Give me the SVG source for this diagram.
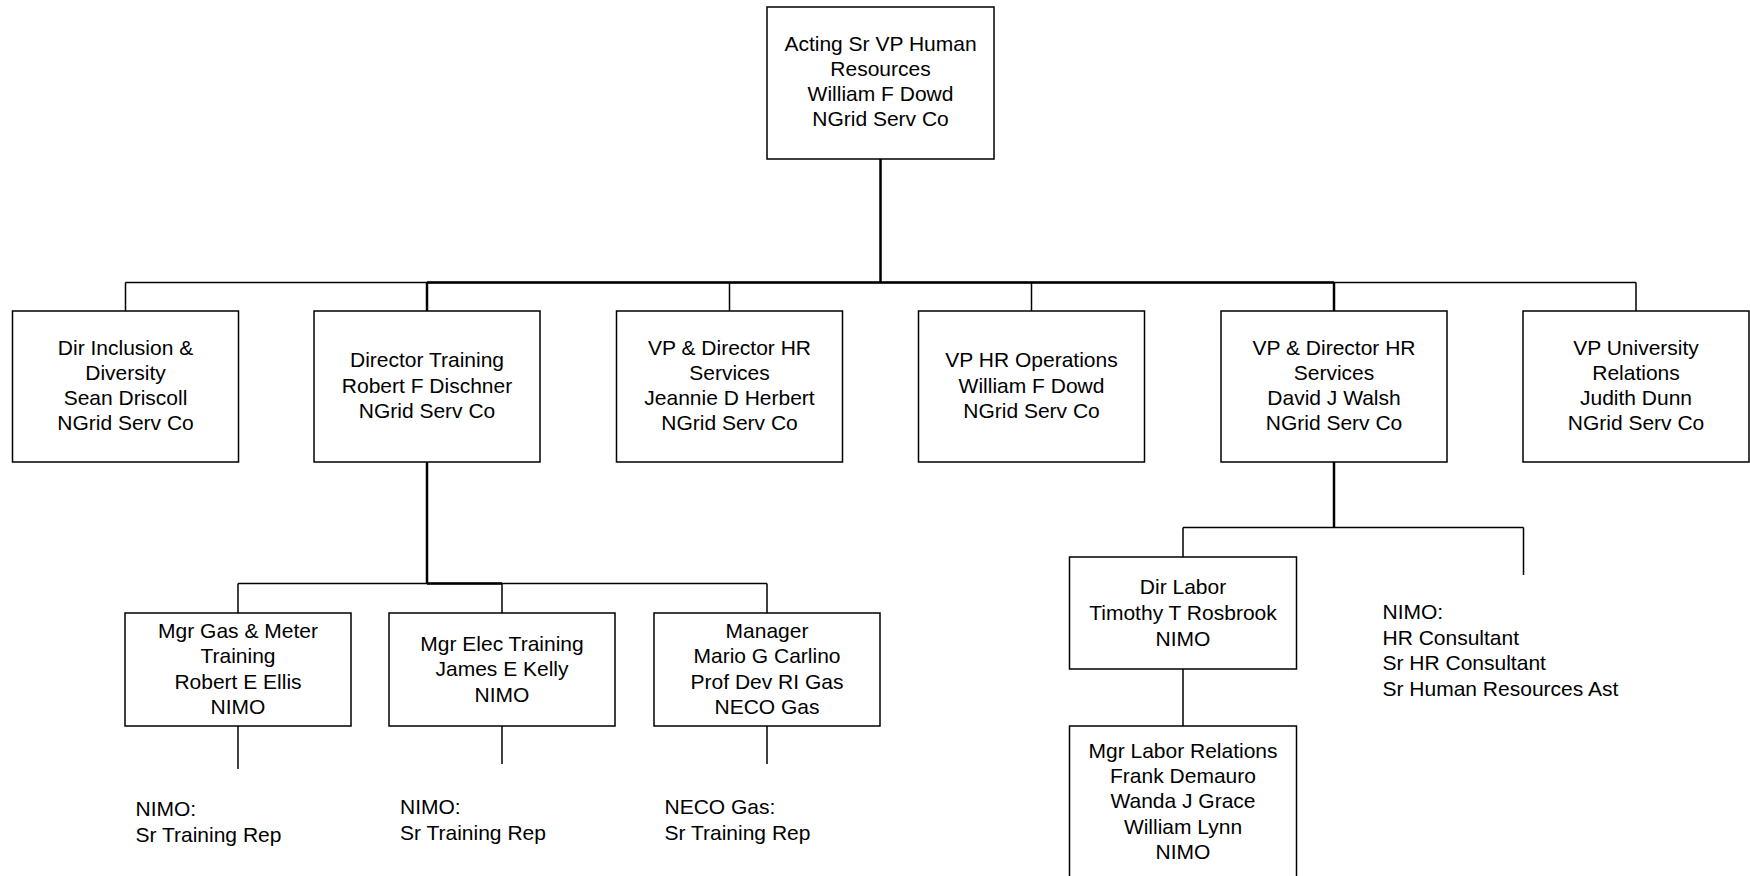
<svg xmlns="http://www.w3.org/2000/svg" width="1750" height="876" viewBox="0 0 1750 876">
<style>
.box{fill:#fff;stroke:#000;stroke-width:1.5}
.t{font-family:"Liberation Sans",Arial,sans-serif;font-size:21px;fill:#000;text-anchor:middle}
.l{font-family:"Liberation Sans",Arial,sans-serif;font-size:21px;fill:#000}
.c{fill:none;stroke:#000;stroke-width:1.5}
.ck{fill:none;stroke:#000;stroke-width:2.5}
</style>
<rect width="1750" height="876" fill="#fff"/>
<g id="connectors">
<path class="c" d="M125.5 282.5H1636M125.5 282.5V311M729.5 282.5V311M1031.5 282.5V311M1636 282.5V311"/>
<path class="ck" d="M880.5 159V282.5M427 282.5H1334M427 282.5V311M1334 282.5V311"/>
<path class="c" d="M238 583.5H767M238 583.5V613M767 583.5V613M502 583.5V613"/>
<path class="ck" d="M427 462V583.5M427 583.5H502"/>
<path class="c" d="M238 726V769M502 726V764M767 726V764"/>
<path class="c" d="M1183 527.5H1523.5M1183 527.5V557M1523.5 527.5V575M1183 669V726"/>
<path class="ck" d="M1334 462V527.5"/>
</g>
<g id="n_top">
<rect class="box" x="767" y="7" width="227" height="152"/>
<text class="t" x="880.5" y="51">Acting Sr VP Human</text>
<text class="t" x="880.5" y="76">Resources</text>
<text class="t" x="880.5" y="101">William F Dowd</text>
<text class="t" x="880.5" y="126">NGrid Serv Co</text>
</g>
<g id="n_inclusion">
<rect class="box" x="12.5" y="311" width="226" height="151"/>
<text class="t" x="125.5" y="355">Dir Inclusion &amp;</text>
<text class="t" x="125.5" y="380">Diversity</text>
<text class="t" x="125.5" y="405">Sean Driscoll</text>
<text class="t" x="125.5" y="430">NGrid Serv Co</text>
</g>
<g id="n_training">
<rect class="box" x="314" y="311" width="226" height="151"/>
<text class="t" x="427" y="367">Director Training</text>
<text class="t" x="427" y="392.5">Robert F Dischner</text>
<text class="t" x="427" y="417.5">NGrid Serv Co</text>
</g>
<g id="n_hr_herbert">
<rect class="box" x="616.5" y="311" width="226" height="151"/>
<text class="t" x="729.5" y="355">VP &amp; Director HR</text>
<text class="t" x="729.5" y="380">Services</text>
<text class="t" x="729.5" y="405">Jeannie D Herbert</text>
<text class="t" x="729.5" y="430">NGrid Serv Co</text>
</g>
<g id="n_hr_ops">
<rect class="box" x="918.5" y="311" width="226" height="151"/>
<text class="t" x="1031.5" y="367">VP HR Operations</text>
<text class="t" x="1031.5" y="392.5">William F Dowd</text>
<text class="t" x="1031.5" y="417.5">NGrid Serv Co</text>
</g>
<g id="n_hr_walsh">
<rect class="box" x="1221" y="311" width="226" height="151"/>
<text class="t" x="1334" y="355">VP &amp; Director HR</text>
<text class="t" x="1334" y="380">Services</text>
<text class="t" x="1334" y="405">David J Walsh</text>
<text class="t" x="1334" y="430">NGrid Serv Co</text>
</g>
<g id="n_university">
<rect class="box" x="1523" y="311" width="226" height="151"/>
<text class="t" x="1636" y="355">VP University</text>
<text class="t" x="1636" y="380">Relations</text>
<text class="t" x="1636" y="405">Judith Dunn</text>
<text class="t" x="1636" y="430">NGrid Serv Co</text>
</g>
<g id="n_gas_meter">
<rect class="box" x="125" y="613" width="226" height="113"/>
<text class="t" x="238" y="637.5">Mgr Gas &amp; Meter</text>
<text class="t" x="238" y="663">Training</text>
<text class="t" x="238" y="688.5">Robert E Ellis</text>
<text class="t" x="238" y="714">NIMO</text>
</g>
<g id="n_elec">
<rect class="box" x="389" y="613" width="226" height="113"/>
<text class="t" x="502" y="651">Mgr Elec Training</text>
<text class="t" x="502" y="676">James E Kelly</text>
<text class="t" x="502" y="701.5">NIMO</text>
</g>
<g id="n_manager">
<rect class="box" x="654" y="613" width="226" height="113"/>
<text class="t" x="767" y="637.5">Manager</text>
<text class="t" x="767" y="663">Mario G Carlino</text>
<text class="t" x="767" y="688.5">Prof Dev RI Gas</text>
<text class="t" x="767" y="714">NECO Gas</text>
</g>
<g id="n_dir_labor">
<rect class="box" x="1069.5" y="557" width="227" height="112"/>
<text class="t" x="1183" y="593.5">Dir Labor</text>
<text class="t" x="1183" y="620">Timothy T Rosbrook</text>
<text class="t" x="1183" y="646">NIMO</text>
</g>
<g id="n_labor_rel">
<rect class="box" x="1069.5" y="726" width="227" height="160"/>
<text class="t" x="1183" y="757.5">Mgr Labor Relations</text>
<text class="t" x="1183" y="782.5">Frank Demauro</text>
<text class="t" x="1183" y="807.5">Wanda J Grace</text>
<text class="t" x="1183" y="833.5">William Lynn</text>
<text class="t" x="1183" y="858.5">NIMO</text>
</g>
<g id="n_staff_gas">
<text class="l" x="135.5" y="816">NIMO:</text>
<text class="l" x="135.5" y="842">Sr Training Rep</text>
</g>
<g id="n_staff_elec">
<text class="l" x="400" y="814">NIMO:</text>
<text class="l" x="400" y="840">Sr Training Rep</text>
</g>
<g id="n_staff_neco">
<text class="l" x="664.5" y="814">NECO Gas:</text>
<text class="l" x="664.5" y="840">Sr Training Rep</text>
</g>
<g id="n_staff_hr">
<text class="l" x="1382.5" y="619">NIMO:</text>
<text class="l" x="1382.5" y="644.5">HR Consultant</text>
<text class="l" x="1382.5" y="670">Sr HR Consultant</text>
<text class="l" x="1382.5" y="695.5">Sr Human Resources Ast</text>
</g>
</svg>
